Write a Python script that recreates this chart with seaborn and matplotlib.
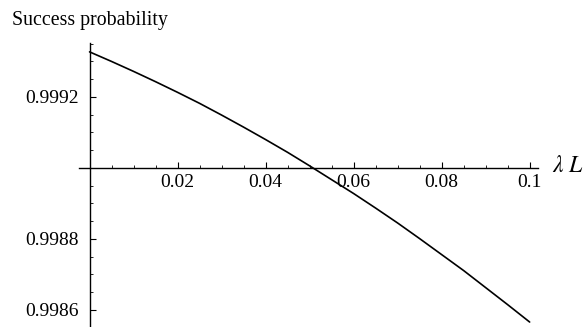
import matplotlib
matplotlib.use("Agg")
import matplotlib.pyplot as plt
import seaborn as sns
import pandas as pd
from matplotlib.ticker import MultipleLocator, FixedLocator, FixedFormatter

lam_L = [0.0, 0.005, 0.01, 0.015, 0.02, 0.025, 0.03, 0.035, 0.04, 0.045, 0.05,
         0.055, 0.06, 0.065, 0.07, 0.075, 0.08, 0.085, 0.09, 0.095, 0.10]
success = [0.999327, 0.999300, 0.999272, 0.999243, 0.999213, 0.999182,
           0.999149, 0.999115, 0.999080, 0.999044, 0.999006, 0.998967,
           0.998928, 0.998887, 0.998845, 0.998801, 0.998756, 0.998711,
           0.998663, 0.998615, 0.998566]
x_ticks = [0.02, 0.04, 0.06, 0.08, 0.1]
x_tick_labels = ["0.02", "0.04", "0.06", "0.08", "0.1"]
y_ticks = [0.9986, 0.9988, 0.9992]
y_tick_labels = ["0.9986", "0.9988", "0.9992"]

sns.set_style("white")
plt.rcParams['font.family'] = ['Liberation Serif', 'DejaVu Serif']
plt.rcParams['mathtext.fontset'] = 'stix'

df = pd.DataFrame({"lam_L": lam_L, "success": success})

fig = plt.figure(figsize=(5.86, 3.27), dpi=100)
ax = fig.add_axes([79 / 586, 0.0, (538 - 79) / 586, (327 - 43) / 327])

sns.lineplot(data=df, x="lam_L", y="success", ax=ax, color="black", linewidth=1.2)

ax.set_xlim(-0.0024, 0.1019)
ax.set_ylim(0.998552, 0.999352)

for s in ["top", "right"]:
    ax.spines[s].set_visible(False)
ax.spines["left"].set_position(("data", 0.0))
ax.spines["bottom"].set_position(("data", 0.999))
for s in ["left", "bottom"]:
    ax.spines[s].set_color("black")
    ax.spines[s].set_linewidth(1.0)

ax.xaxis.set_major_locator(FixedLocator(x_ticks))
ax.xaxis.set_major_formatter(FixedFormatter(x_tick_labels))
ax.xaxis.set_minor_locator(MultipleLocator(0.005))
ax.yaxis.set_major_locator(FixedLocator(y_ticks))
ax.yaxis.set_major_formatter(FixedFormatter(y_tick_labels))
ax.yaxis.set_minor_locator(MultipleLocator(0.00005))

ax.tick_params(axis="both", which="major", direction="in", length=4, width=0.8,
               color="black", labelsize=14, labelcolor="black")
ax.tick_params(axis="both", which="minor", direction="in", length=2.5, width=0.6,
               color="black")
ax.tick_params(axis="x", which="both", bottom=True, pad=4)
ax.tick_params(axis="y", which="both", left=True, pad=8)

ax.set_xlabel("")
ax.set_ylabel("")

fig.text(12 / 586, 1 - 20 / 327, "Success probability", fontsize=14.3,
         ha="left", va="center", color="black")
fig.text(552 / 586, 1 - 166 / 327, r"$\lambda\ L$", fontsize=17,
         ha="left", va="center", color="black")

fig.savefig("out.png", dpi=100)
